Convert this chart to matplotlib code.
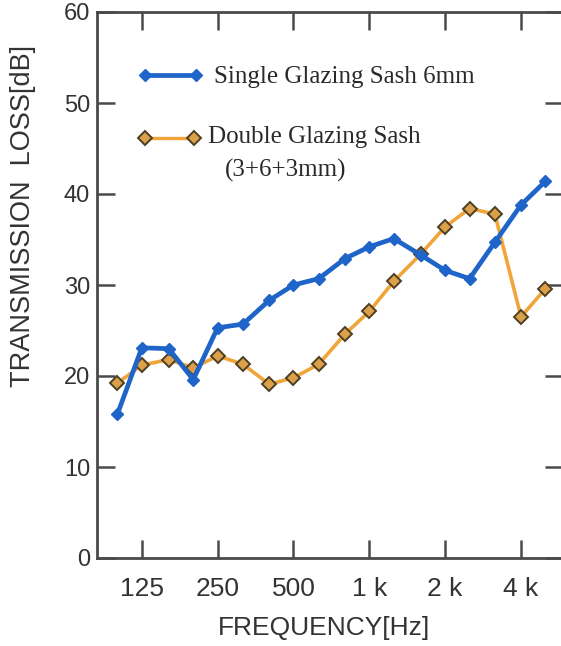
import matplotlib
matplotlib.use("Agg")
import matplotlib.pyplot as plt
from matplotlib.ticker import FixedLocator, FixedFormatter, NullLocator

# 1/3-octave band centre frequencies [Hz]
freqs = [100, 125, 160, 200, 250, 315, 400, 500, 630, 800,
         1000, 1250, 1600, 2000, 2500, 3150, 4000, 5000]
single_6mm = [15.8, 23.1, 23.0, 19.6, 25.3, 25.7, 28.3, 30.0, 30.7, 32.9,
              34.2, 35.1, 33.3, 31.6, 30.7, 34.7, 38.8, 41.4]
double_363 = [19.2, 21.2, 21.8, 20.9, 22.2, 21.3, 19.1, 19.8, 21.3, 24.6,
              27.1, 30.4, 33.4, 36.4, 38.4, 37.8, 26.5, 29.6]

xtick_vals = [125, 250, 500, 1000, 2000, 4000]
xtick_labels = ["125", "250", "500", "1 k", "2 k", "4 k"]
ytick_vals = [0, 10, 20, 30, 40, 50, 60]

label_single = "Single Glazing Sash 6mm"
label_double = "Double Glazing Sash"
label_double2 = "(3+6+3mm)"

W, H = 561, 646
fig = plt.figure(figsize=(W / 100, H / 100), dpi=100)
L, R, T, B = 97, 563, 12, 558
ax = fig.add_axes([L / W, 1 - B / H, (R - L) / W, (B - T) / H])

blue = "#1f64c8"
orange_line = "#f0a53a"
orange_face = "#dba04a"
orange_edge = "#4e3e22"

ax.plot(freqs, double_363, color=orange_line, lw=2.6, marker="D", ms=7,
        mfc=orange_face, mec=orange_edge, mew=1.4, zorder=3)
ax.plot(freqs, single_6mm, color=blue, lw=3.4, marker="D", ms=6.5,
        mfc=blue, mec=blue, zorder=4)

ax.set_xscale("log")
ax.set_xlim(83, 5870)
ax.set_ylim(0, 60)
ax.xaxis.set_major_locator(FixedLocator(xtick_vals))
ax.xaxis.set_major_formatter(FixedFormatter(xtick_labels))
ax.xaxis.set_minor_locator(NullLocator())
ax.set_yticks(ytick_vals)

for s in ax.spines.values():
    s.set_linewidth(2.0)
    s.set_color("#4a4a4a")

ax.tick_params(axis="both", which="major", direction="in", length=13, width=1.8,
               color="#4a4a4a", top=True, right=True)
ax.tick_params(axis="x", pad=14)
ax.tick_params(axis="y", pad=5)
for lab in ax.get_xticklabels():
    lab.set_fontfamily("Liberation Sans")
    lab.set_fontsize(19)
    lab.set_color("#333333")
for lab in ax.get_yticklabels():
    lab.set_fontfamily("Liberation Sans")
    lab.set_fontsize(17)
    lab.set_color("#333333")

fig.text(324 / W, 1 - 628 / H, "FREQUENCY[Hz]", ha="center", va="center",
         fontsize=19, family="Liberation Sans", color="#333333")
fig.text(23 / W, 1 - 216 / H, "TRANSMISSION  LOSS[dB]", ha="center", va="center",
         rotation=90, fontsize=19.5, family="Liberation Sans", color="#333333")

# legend drawn manually
def fx(px):
    return px / W

def fy(py):
    return 1 - py / H

fig.lines.append(plt.Line2D([fx(145), fx(196)], [fy(75), fy(75)], color=blue, lw=3.4,
                            marker="D", ms=6.5, mfc=blue, mec=blue,
                            transform=fig.transFigure))
fig.lines.append(plt.Line2D([fx(145), fx(194)], [fy(138), fy(138)], color=orange_line,
                            lw=2.4, marker="D", ms=7, mfc=orange_face, mec=orange_edge,
                            mew=1.4, transform=fig.transFigure))
fig.text(fx(214), fy(77), label_single, ha="left", va="center", fontsize=18,
         family="Liberation Serif", color="#2a2a2a")
fig.text(fx(208), fy(137), label_double, ha="left", va="center", fontsize=18,
         family="Liberation Serif", color="#2a2a2a")
fig.text(fx(225), fy(170), label_double2, ha="left", va="center", fontsize=18,
         family="Liberation Serif", color="#2a2a2a")

fig.savefig("out.png", dpi=100)
